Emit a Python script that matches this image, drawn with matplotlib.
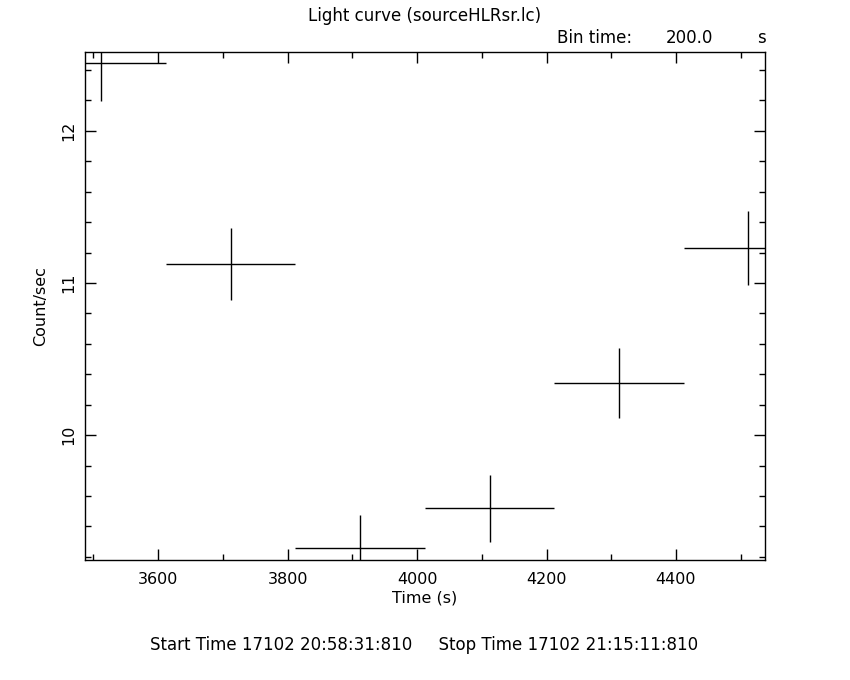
import numpy as np
import matplotlib
matplotlib.use("Agg")
import matplotlib.pyplot as plt
from matplotlib.ticker import MultipleLocator

# light curve bins (bin centre, half width, rate, error)
time = [3512, 3712, 3912, 4112, 4312, 4512]
half_width = [100, 100, 100, 100, 100, 100]
rate = [12.445, 11.125, 9.257, 9.519, 10.341, 11.228]
rate_err = [0.25, 0.236, 0.218, 0.22, 0.23, 0.244]

fig = plt.figure(figsize=(8.5, 6.8), dpi=100)
ax = fig.add_axes([0.1, 0.1765, 0.8, 0.7475])

ax.errorbar(time, rate, xerr=half_width, yerr=rate_err, fmt='none',
            ecolor='black', elinewidth=1.0, capsize=0)

ax.set_xlim(3487, 4537.5)
ax.set_ylim(9.18, 12.52)

ax.xaxis.set_major_locator(MultipleLocator(200))
ax.xaxis.set_minor_locator(MultipleLocator(100))
ax.yaxis.set_major_locator(MultipleLocator(1))
ax.yaxis.set_minor_locator(MultipleLocator(0.2))
ax.tick_params(which='both', direction='in', top=True, right=True,
               labelsize=11.5, width=1.0)
ax.tick_params(which='major', length=8)
ax.tick_params(which='minor', length=4)
ax.tick_params(axis='x', pad=9)
ax.tick_params(axis='y', pad=6)
for lab in ax.get_yticklabels():
    lab.set_rotation(90)
    lab.set_va('center')
for sp in ax.spines.values():
    sp.set_linewidth(1.0)

ax.set_xlabel("Time (s)", fontsize=11.5, labelpad=2)
ax.set_ylabel("Count/sec", fontsize=11.5, labelpad=10)

fig.text(0.499, 0.976, "Light curve (sourceHLRsr.lc)", ha='center', va='center', fontsize=12)
fig.text(0.655, 0.944, "Bin time:", ha='left', va='center', fontsize=12)
fig.text(0.839, 0.944, "200.0", ha='right', va='center', fontsize=12)
fig.text(0.896, 0.944, "s", ha='center', va='center', fontsize=12)
fig.text(0.499, 0.051, "Start Time 17102 20:58:31:810     Stop Time 17102 21:15:11:810",
         ha='center', va='center', fontsize=12)

fig.savefig("out.png", dpi=100)
